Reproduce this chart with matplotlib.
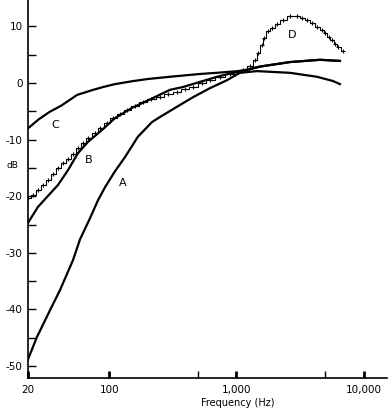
import numpy as np
import matplotlib.pyplot as plt
from matplotlib.ticker import FixedLocator, NullFormatter, NullLocator

# Weighting curves (frequency in Hz, level in dB)
freq_a = [23, 27, 34.3, 41, 51.9, 59, 70.6, 81.7, 92.8, 111, 133, 168, 217, 251,
          341, 457, 621, 844, 1067, 1452, 2636, 4302, 5748, 6522]
db_a = [-48.8, -44.9, -40.1, -36.6, -31.3, -27.6, -23.9, -20.7, -18.4, -15.6, -13.1,
        -9.5, -6.9, -6.0, -4.2, -2.5, -0.9, 0.5, 1.8, 2.1, 1.8, 1.1, 0.35, -0.2]

freq_b = [23, 27.5, 39.6, 47.4, 56.8, 68.1, 87.8, 111, 151, 221, 301, 381, 518,
          705, 941, 1211, 1530, 2640, 4540, 6520]
db_b = [-24.7, -21.9, -18.0, -15.4, -12.4, -10.4, -8.3, -6.2, -4.4, -2.65, -1.2,
        -0.7, 0.2, 1.1, 1.8, 2.3, 2.9, 3.7, 4.1, 3.9]

freq_c = [23, 28, 34, 42, 56, 75, 90, 111, 150, 200, 300, 520, 700, 1030, 1250,
          1530, 2640, 4540, 6520]
db_c = [-8.0, -6.4, -5.1, -4.0, -2.1, -1.2, -0.7, -0.2, 0.3, 0.7, 1.1, 1.6, 1.8,
        2.1, 2.4, 2.9, 3.7, 4.1, 3.9]

freq_d = [23.0, 25.2, 27.6, 30.2, 33.0, 36.2, 39.6, 43.3, 47.4, 51.9, 56.8, 62.2,
          68.1, 77.3, 84.7, 96.1, 107, 122, 138, 160, 184, 213, 251, 290, 341, 394,
          456, 537, 620, 743, 891, 1011, 1127, 1279, 1400, 1479, 1590, 1648, 1772,
          1905, 2085, 2325, 2639, 2995, 3280, 3589, 3930, 4301, 4710, 4972, 5345,
          5644, 5961, 6292, 6887]
db_d = [-20.3, -19.8, -18.9, -18.0, -17.1, -16.1, -15.0, -14.1, -13.4, -12.5, -11.5,
        -10.6, -9.7, -8.8, -8.0, -7.1, -6.2, -5.5, -4.8, -4.1, -3.4, -2.8, -2.5, -1.9,
        -1.6, -1.1, -0.7, 0.0, 0.5, 1.1, 1.6, 1.9, 2.3, 3.0, 4.1, 5.3, 6.7, 8.0, 9.2,
        9.7, 10.4, 11.1, 11.8, 11.8, 11.5, 11.1, 10.6, 9.9, 9.4, 8.8, 8.1, 7.6, 6.9,
        6.4, 5.7]

curve_labels = ['A', 'B', 'C', 'D']
label_pos = [(128, -17.7), (69.4, -13.6), (37.5, -7.4), (2737, 8.5)]

x_major = [100, 1000, 10000]
x_minor = [500, 5000]
y_major = [10, 0, -10, -20, -30, -40, -50]
y_minor = [5, -5, -15, -25, -35, -45]

fig = plt.figure(figsize=(3.9, 4.11), dpi=100)
ax = fig.add_axes([28 / 390, 1 - 378 / 411, 359 / 390, 378 / 411])

ax.plot(freq_a, db_a, color='black', lw=1.6)
ax.plot(freq_b, db_b, color='black', lw=1.6)
ax.plot(freq_c, db_c, color='black', lw=1.6)
ax.plot(freq_d, db_d, color='black', lw=0.8, drawstyle='steps-mid',
        marker='+', ms=3.5, mew=0.8)

for name, (lx, ly) in zip(curve_labels, label_pos):
    ax.text(lx, ly, name, fontsize=8, ha='center', va='center')

ax.set_xscale('log')
ax.set_xlim(23.0, 15280)
ax.set_ylim(-52.1, 14.66)

ax.spines['top'].set_visible(False)
ax.spines['right'].set_visible(False)
ax.spines['left'].set_linewidth(1.2)
ax.spines['bottom'].set_linewidth(1.2)

ax.xaxis.set_major_locator(FixedLocator([23.0] + x_major))
ax.set_xticklabels(['20', '100', '1,000', '10,000'])
ax.xaxis.set_minor_locator(FixedLocator(x_minor))
ax.xaxis.set_minor_formatter(NullFormatter())
ax.tick_params(axis='x', which='major', direction='in', length=5, width=2,
               labelsize=7.5, pad=5)
ax.tick_params(axis='x', which='minor', direction='in', length=5, width=1)

ax.set_yticks(y_major)
ax.set_yticklabels([str(v) for v in y_major])
ax.yaxis.set_minor_locator(FixedLocator(y_minor))
ax.tick_params(axis='y', which='both', direction='in', length=6, width=1,
               labelsize=7.5, pad=4)

ax.set_xlabel('Frequency (Hz)', fontsize=7)
ax.xaxis.set_label_coords(0.585, -0.052)
fig.text(12 / 390, 1 - 165 / 411, 'dB', fontsize=6.5, ha='center', va='center')

fig.savefig('out.png', dpi=100)
